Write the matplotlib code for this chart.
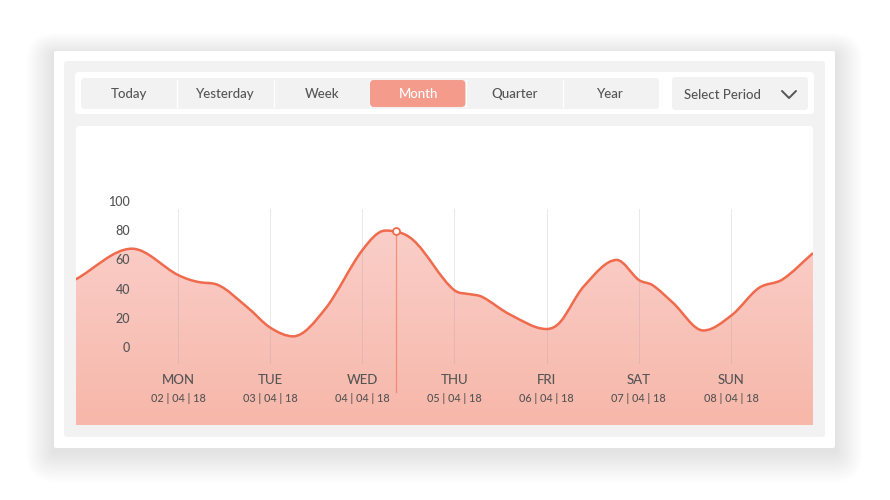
import numpy as np
import matplotlib
matplotlib.use('Agg')
import matplotlib.pyplot as plt
from matplotlib.path import Path
from matplotlib.patches import FancyBboxPatch, PathPatch

plt.rcParams['font.family'] = ['Lato', 'DejaVu Sans']

# ---- data ----
periods = ['Today', 'Yesterday', 'Week', 'Month', 'Quarter', 'Year']
active_period = 'Month'
days = ['MON', 'TUE', 'WED', 'THU', 'FRI', 'SAT', 'SUN']
dates = ['02 | 04 | 18', '03 | 04 | 18', '04 | 04 | 18', '05 | 04 | 18',
         '06 | 04 | 18', '07 | 04 | 18', '08 | 04 | 18']
y_ticks = [0, 20, 40, 60, 80, 100]
# curve values (x in day units, MON = 0)
curve_x = [-1.11, -0.50, 0.00, 0.24, 0.42, 0.75, 1.00, 1.25, 1.60, 2.00, 2.25,
           2.55, 3.00, 3.15, 3.30, 3.60, 4.00, 4.15, 4.40, 4.76, 5.00, 5.15,
           5.37, 5.70, 6.01, 6.30, 6.56, 6.89]
curve_y = [47, 68, 50, 45, 43.5, 28, 14, 8, 27, 67, 80.4,
           74, 39.5, 37, 35, 23, 13, 18, 42, 60.3, 46.6, 43,
           31, 12, 22.6, 41, 47, 65]
marker_x = 2.36
marker_y = 79.8

LINE = '#f06a4d'
TXT = '#555555'


def smooth_path(x, y):
    # cubic hermite with centred tangents, flat at peaks/valleys, limited to avoid overshoot
    x = np.asarray(x, float)
    y = np.asarray(y, float)
    h = np.diff(x)
    d = np.diff(y) / h
    m = np.zeros(len(x))
    m[0], m[-1] = d[0], d[-1]
    for k in range(1, len(x) - 1):
        if d[k - 1] * d[k] <= 0:
            m[k] = 0
        else:
            m[k] = (y[k + 1] - y[k - 1]) / (x[k + 1] - x[k - 1])
    for k in range(len(d)):
        if d[k] == 0:
            m[k] = m[k + 1] = 0
            continue
        a, b = m[k] / d[k], m[k + 1] / d[k]
        s = a * a + b * b
        if s > 9:
            t = 3 / np.sqrt(s)
            m[k], m[k + 1] = t * a * d[k], t * b * d[k]
    verts = [(x[0], y[0])]
    codes = [Path.MOVETO]
    for k in range(len(x) - 1):
        verts += [(x[k] + h[k] / 3, y[k] + m[k] * h[k] / 3),
                  (x[k + 1] - h[k] / 3, y[k + 1] - m[k + 1] * h[k] / 3),
                  (x[k + 1], y[k + 1])]
        codes += [Path.CURVE4] * 3
    return verts, codes


fig = plt.figure(figsize=(8.9, 5), dpi=100)
fig.patch.set_facecolor('white')

# frame axes in pixel coordinates
fr = fig.add_axes([0, 0, 1, 1])
fr.set_xlim(0, 890)
fr.set_ylim(500, 0)
fr.axis('off')

# soft shadow around the card
n = 28
for i in range(n):
    g = n - i
    fr.add_patch(FancyBboxPatch((54 - g, 55 - g * 0.8), 781 + 2 * g, 397 + 1.9 * g,
                                boxstyle='round,pad=0,rounding_size=%d' % (g + 2),
                                fc='#000000', ec='none', alpha=0.0035))
fr.add_patch(FancyBboxPatch((54, 51), 781, 397, boxstyle='round,pad=0,rounding_size=2',
                            fc='white', ec='none'))
fr.add_patch(FancyBboxPatch((64, 61), 761, 376, boxstyle='round,pad=0,rounding_size=3',
                            fc='#f2f2f2', ec='none'))
# top bar
fr.add_patch(FancyBboxPatch((75, 72), 739, 42, boxstyle='round,pad=0,rounding_size=4',
                            fc='white', ec='none'))
fr.add_patch(FancyBboxPatch((81, 78), 578, 31, boxstyle='round,pad=0,rounding_size=4',
                            fc='#f2f2f2', ec='none'))
bw = 578 / len(periods)
for i, p in enumerate(periods):
    cx = 81 + bw * (i + 0.5)
    if i > 0:
        fr.plot([81 + bw * i] * 2, [80, 107], color='white', lw=1)
    if p == active_period:
        fr.add_patch(FancyBboxPatch((81 + bw * i, 80), bw - 1, 27,
                                    boxstyle='round,pad=0,rounding_size=4',
                                    fc='#f49b8c', ec='none', zorder=3))
        fr.text(cx, 94, p, ha='center', va='center', fontsize=9.5, color='white',
                fontweight='medium', zorder=4)
    else:
        fr.text(cx, 94, p, ha='center', va='center', fontsize=9.5, color=TXT,
                fontweight='medium')
fr.add_patch(FancyBboxPatch((672, 77), 136, 33, boxstyle='round,pad=0,rounding_size=4',
                            fc='#f2f2f2', ec='none'))
fr.text(684, 95, 'Select Period', ha='left', va='center', fontsize=9.5, color=TXT,
        fontweight='medium')
fr.plot([782, 789, 796], [91, 98, 91], color='#555555', lw=1.4, solid_capstyle='round')
# chart panel
fr.add_patch(FancyBboxPatch((76, 126), 737, 299, boxstyle='round,pad=0,rounding_size=3',
                            fc='white', ec='none'))

# chart axes
ax = fig.add_axes([76 / 890, 75 / 500, 737 / 890, 299 / 500])
ax.patch.set_alpha(0)
ax.axis('off')
x0, x1 = -1.107, 6.89
ybot, ytop = -52.7, 152
ax.set_xlim(x0, x1)
ax.set_ylim(ybot, ytop)

verts, codes = smooth_path(curve_x, curve_y)
fill_verts = verts + [(curve_x[-1], ybot), (curve_x[0], ybot), (curve_x[0], curve_y[0])]
fill_codes = codes + [Path.LINETO, Path.LINETO, Path.CLOSEPOLY]
fill_patch = PathPatch(Path(fill_verts, fill_codes), fc='none', ec='none')
ax.add_patch(fill_patch)
grad = np.linspace(0, 1, 256).reshape(-1, 1)
cmap = matplotlib.colors.LinearSegmentedColormap.from_list('g', ['#f7b7a9', '#facfca'])
im = ax.imshow(grad, extent=[x0, x1, ybot, 85], origin='lower', aspect='auto',
               cmap=cmap, zorder=1)
im.set_clip_path(fill_patch)

# vertical day lines
for i in range(len(days)):
    ax.plot([i, i], [-10, 95], color='#999999', lw=0.7, alpha=0.22, zorder=2)
ax.add_patch(PathPatch(Path(verts, codes), fc='none', ec=LINE, lw=1.8, zorder=3))

# highlighted point
ax.plot([marker_x, marker_x], [-30, marker_y], color=LINE, lw=0.9, alpha=0.6, zorder=3)
ax.plot([marker_x], [marker_y], 'o', ms=5, mfc='white', mec=LINE, mew=1.3, zorder=4)

# y labels
for t in y_ticks:
    ax.text(-0.52, t, str(t), ha='right', va='center', fontsize=9, color=TXT,
            fontweight='medium')

# x labels
for i, (d, dt) in enumerate(zip(days, dates)):
    ax.text(i, -21.9, d, ha='center', va='center', fontsize=9.5, color=TXT,
            fontweight='medium')
    ax.text(i, -34.9, dt, ha='center', va='center', fontsize=7.8, color=TXT,
            fontweight='medium')

plt.savefig('out.png', dpi=100)
